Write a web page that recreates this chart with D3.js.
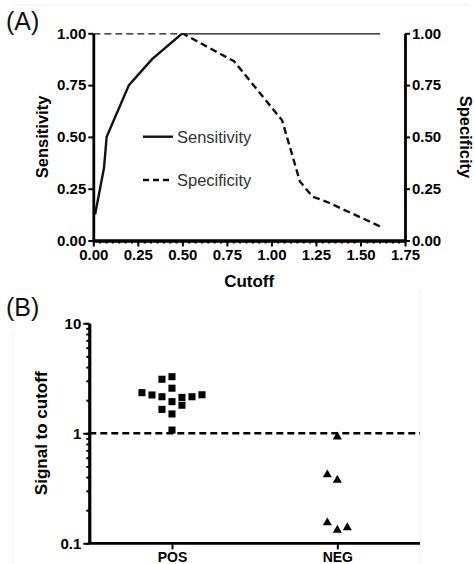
<!DOCTYPE html>
<html lang="en">
<head>
<meta charset="UTF-8">
<title>Cutoff chart</title>
<script src="https://cdn.jsdelivr.net/npm/d3@7"></script>
<style>
  body { margin: 0; background: #fff; }
  svg { display: block; font-family: "Liberation Sans", Arial, sans-serif; }
  .tick text { font-weight: bold; font-size: 15px; fill: #000; }
</style>
</head>
<body>
<svg width="475" height="564"></svg>
<script>
// panel A: sensitivity / specificity against cutoff
var cutoffSens = [0.01, 0.06, 0.075, 0.2, 0.33, 0.5, 1.61];
var sensitivity = [0.125, 0.35, 0.5, 0.75, 0.875, 1, 1];
var cutoffSpec = [0, 0.5, 0.79, 1.06, 1.16, 1.23, 1.31, 1.61];
var specificity = [1, 1, 0.865, 0.58, 0.285, 0.212, 0.187, 0.068];
var xTicksA = [0, 0.25, 0.5, 0.75, 1, 1.25, 1.5, 1.75];
var yTicksA = [0, 0.25, 0.5, 0.75, 1];

// panel B: signal to cutoff per group
var groups = ['POS', 'NEG'];
var posValues = [2.34, 2.23, 2.15, 2.57, 3.10, 3.27, 1.94, 2.12, 2.15, 2.24, 1.65, 1.80, 1.50, 1.07];
var posSlots = [-3, -2, -1, 0, -1, 0, 0, 1, 2, 3, -1, 1, 0, 0];
var negValues = [0.93, 0.42, 0.376, 0.154, 0.132, 0.139];
var negSlots = [0, -1, 0, -1, 0, 1];
var cutoffValue = 1;
var yTicksB = [0.1, 1, 10];

var svg = d3.select('svg');

// faint scan frame
svg.append('line').attr('x1', 12).attr('x2', 470).attr('y1', 5).attr('y2', 5)
  .attr('stroke', '#f0f0f0');
svg.append('line').attr('x1', 13).attr('x2', 13).attr('y1', 330).attr('y2', 564)
  .attr('stroke', '#f0f0f0');
svg.append('line').attr('x1', 420).attr('x2', 420).attr('y1', 290).attr('y2', 564)
  .attr('stroke', '#f0f0f0');

// ---------- panel A ----------
var xA = d3.scaleLinear().domain([0, 1.75]).range([93.3, 405]);
var yA = d3.scaleLinear().domain([0, 1]).range([240.5, 33.3]);

svg.append('text').attr('x', 6).attr('y', 30).attr('font-size', 25).attr('fill', '#111').text('(A)');

svg.append('clipPath').attr('id', 'clipA').append('rect')
  .attr('x', xA(0)).attr('y', yA(1))
  .attr('width', xA(1.75) - xA(0)).attr('height', yA(0) - yA(1));

var line = d3.line().x(function (d) { return xA(d[0]); }).y(function (d) { return yA(d[1]); });
var plotA = svg.append('g').attr('clip-path', 'url(#clipA)');

plotA.append('path')
  .datum(d3.zip(cutoffSpec, specificity))
  .attr('d', line).attr('fill', 'none').attr('stroke', '#111')
  .attr('stroke-width', 2.4).attr('stroke-dasharray', '7,4');
plotA.append('path')
  .datum(d3.zip(cutoffSens, sensitivity))
  .attr('d', line).attr('fill', 'none').attr('stroke', '#111')
  .attr('stroke-width', 2.4);

// axes A
var fmt2 = d3.format('.2f');
svg.append('g').attr('transform', 'translate(' + xA(0) + ',0)')
  .call(d3.axisLeft(yA).tickValues(yTicksA).tickFormat(fmt2).tickSize(5).tickSizeOuter(0).tickPadding(2));
svg.append('g').attr('transform', 'translate(' + xA(1.75) + ',0)')
  .call(d3.axisRight(yA).tickValues(yTicksA).tickFormat(fmt2).tickSize(5).tickSizeOuter(0).tickPadding(2));
var minorA = d3.range(0, 1.75 + 1e-9, 0.25 / 7);
svg.append('g').attr('transform', 'translate(0,' + yA(0) + ')')
  .call(d3.axisBottom(xA).tickValues(minorA).tickSize(3).tickFormat('').tickSizeOuter(0));
svg.append('g').attr('transform', 'translate(0,' + yA(0) + ')')
  .call(d3.axisBottom(xA).tickValues(xTicksA).tickFormat(fmt2).tickSize(6).tickSizeOuter(0).tickPadding(3));

svg.append('text').attr('x', (xA(0) + xA(1.75)) / 2).attr('y', 287)
  .attr('text-anchor', 'middle').attr('font-weight', 'bold').attr('font-size', 17).text('Cutoff');
svg.append('text').attr('transform', 'translate(48,' + yA(0.5) + ') rotate(-90)')
  .attr('text-anchor', 'middle').attr('font-weight', 'bold').attr('font-size', 16.5).text('Sensitivity');
svg.append('text').attr('transform', 'translate(460,' + yA(0.5) + ') rotate(90)')
  .attr('text-anchor', 'middle').attr('font-weight', 'bold').attr('font-size', 16.5).text('Specificity');

// legend
var legend = svg.append('g');
var legendItems = [['Sensitivity', null], ['Specificity', '6,4']];
legendItems.forEach(function (it, i) {
  var ly = 136.7 + i * 43.3;
  legend.append('line').attr('x1', 143).attr('x2', 173).attr('y1', ly).attr('y2', ly)
    .attr('stroke', '#111').attr('stroke-width', 2.4).attr('stroke-dasharray', it[1]);
  legend.append('text').attr('x', 177).attr('y', ly + 6).attr('font-size', 16.5)
    .attr('fill', '#333').text(it[0]);
});

// ---------- panel B ----------
var xB = d3.scalePoint().domain(groups).range([89.3, 420]).padding(0.5);
var yB = d3.scaleLog().domain([0.1, 10]).range([543.3, 323.3]);
var slotW = 10;

svg.append('text').attr('x', 6).attr('y', 316).attr('font-size', 25).attr('fill', '#111').text('(B)');

svg.append('line')
  .attr('x1', xB.range()[0]).attr('x2', xB.range()[1])
  .attr('y1', yB(cutoffValue)).attr('y2', yB(cutoffValue))
  .attr('stroke', '#000').attr('stroke-width', 2.5).attr('stroke-dasharray', '7,4');

var minorB = [];
[0.1, 1].forEach(function (d) { for (var k = 1; k <= 10; k++) minorB.push(d * k); });
svg.append('g').attr('transform', 'translate(' + xB.range()[0] + ',0)')
  .call(d3.axisLeft(yB).tickValues(minorB).tickSize(3).tickFormat('').tickSizeOuter(0));
svg.append('g').attr('transform', 'translate(' + xB.range()[0] + ',0)')
  .call(d3.axisLeft(yB).tickValues(yTicksB).tickFormat(d3.format('~g')).tickSize(6).tickSizeOuter(0).tickPadding(2));
var gxB = svg.append('g').attr('transform', 'translate(0,' + yB(0.1) + ')')
  .call(d3.axisBottom(xB).tickSize(6).tickSizeOuter(0).tickPadding(3));
gxB.selectAll('.domain').attr('d', 'M' + xB.range()[0] + ',0H' + xB.range()[1]);
gxB.selectAll('.tick text').attr('font-size', '14px').style('font-size', '14px');

svg.selectAll('.domain').attr('stroke-width', 2.8).attr('stroke', '#000');
svg.selectAll('.tick line').attr('stroke-width', 2).attr('stroke', '#000');

svg.append('text').attr('transform', 'translate(47,' + yB(1) + ') rotate(-90)')
  .attr('text-anchor', 'middle').attr('font-weight', 'bold').attr('font-size', 17).text('Signal to cutoff');

var sq = d3.symbol().type(d3.symbolSquare).size(50);
var tri = d3.symbol().type(d3.symbolTriangle).size(36);

svg.append('g').selectAll('path').data(posValues).enter().append('path')
  .attr('d', sq)
  .attr('transform', function (d, i) {
    return 'translate(' + (xB('POS') + posSlots[i] * slotW) + ',' + yB(d) + ')';
  })
  .attr('fill', '#000');

svg.append('g').selectAll('path').data(negValues).enter().append('path')
  .attr('d', tri)
  .attr('transform', function (d, i) {
    return 'translate(' + (xB('NEG') + negSlots[i] * slotW) + ',' + yB(d) + ')';
  })
  .attr('fill', '#000');
</script>
</body>
</html>
